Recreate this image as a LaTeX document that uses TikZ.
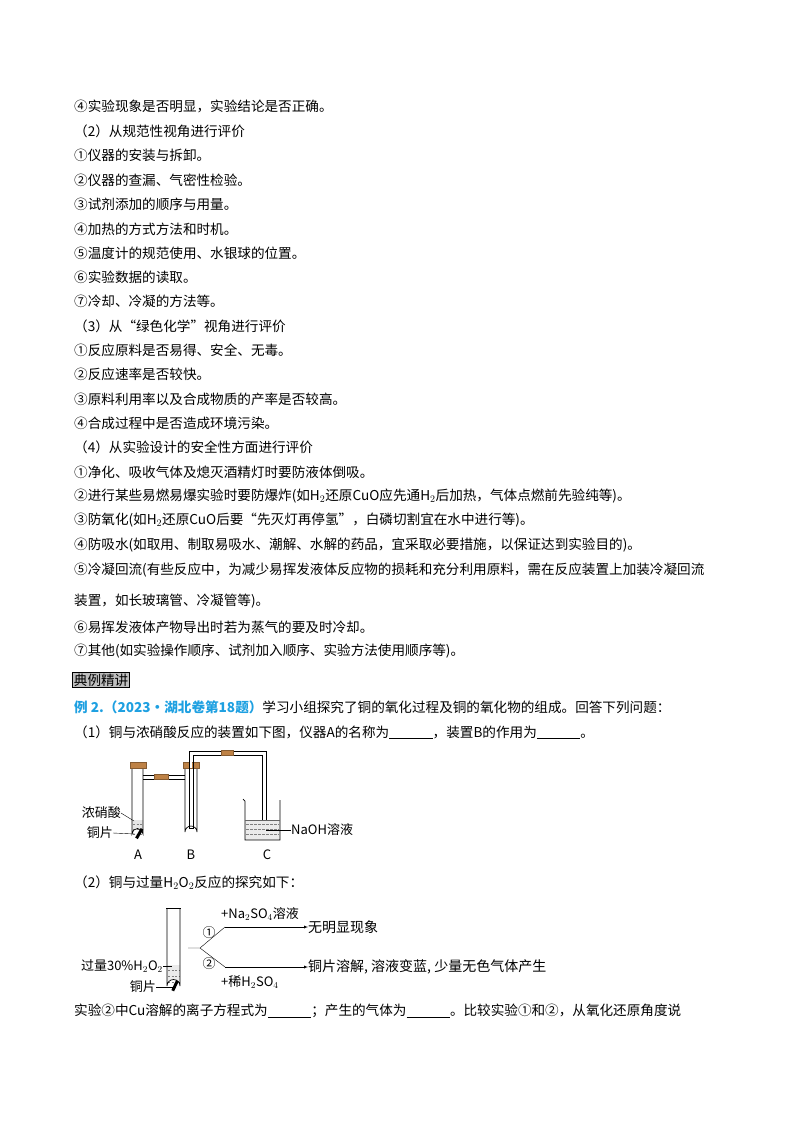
\documentclass[tikz,border=0pt]{standalone}
\usepackage{fontspec}
\setmainfont{Noto Sans CJK SC}
\usetikzlibrary{calc,arrows}
\definecolor{cork}{RGB}{190,130,70}
\definecolor{exblue}{RGB}{30,160,225}
\newcommand{\blank}{\rule[-1.5pt]{3.2em}{0.5pt}}
\tikzset{
	txt/.style={anchor=west,inner sep=0pt,font=\fontsize{13.6}{14}\selectfont},
	lab/.style={inner sep=0pt,font=\fontsize{13}{14}\selectfont},
	glass/.style={line width=0.7pt},
	stop/.style={fill=cork,draw=cork!70!black,line width=0.3pt}
}
\begin{document}
\begin{tikzpicture}[x=1pt,y=-1pt,>=latex]
	\useasboundingbox (0,0) rectangle (800,1132);

	% text lines above the example
	\node[txt] (t1) at (74,106) {④实验现象是否明显，实验结论是否正确。};
	\node[txt] (t2) at (74,131) {（2）从规范性视角进行评价};
	\node[txt] (t3) at (74,155) {①仪器的安装与拆卸。};
	\node[txt] (t4) at (74,180) {②仪器的查漏、气密性检验。};
	\node[txt] (t5) at (74,204) {③试剂添加的顺序与用量。};
	\node[txt] (t6) at (74,229) {④加热的方式方法和时机。};
	\node[txt] (t7) at (74,253) {⑤温度计的规范使用、水银球的位置。};
	\node[txt] (t8) at (74,277) {⑥实验数据的读取。};
	\node[txt] (t9) at (74,301) {⑦冷却、冷凝的方法等。};
	\node[txt] (t10) at (74,326) {（3）从“绿色化学”视角进行评价};
	\node[txt] (t11) at (74,350) {①反应原料是否易得、安全、无毒。};
	\node[txt] (t12) at (74,374) {②反应速率是否较快。};
	\node[txt] (t13) at (74,399) {③原料利用率以及合成物质的产率是否较高。};
	\node[txt] (t14) at (74,423) {④合成过程中是否造成环境污染。};
	\node[txt] (t15) at (74,447) {（4）从实验设计的安全性方面进行评价};
	\node[txt] (t16) at (74,472) {①净化、吸收气体及熄灭酒精灯时要防液体倒吸。};
	\node[txt] (t17) at (74,496) {②进行某些易燃易爆实验时要防爆炸(如H$_2$还原CuO应先通H$_2$后加热，气体点燃前先验纯等)。};
	\node[txt] (t18) at (74,520) {③防氧化(如H$_2$还原CuO后要“先灭灯再停氢”，白磷切割宜在水中进行等)。};
	\node[txt] (t19) at (74,545) {④防吸水(如取用、制取易吸水、潮解、水解的药品，宜采取必要措施，以保证达到实验目的)。};
	\node[txt] (t20) at (74,570) {⑤冷凝回流(有些反应中，为减少易挥发液体反应物的损耗和充分利用原料，需在反应装置上加装冷凝回流};
	\node[txt] (t21) at (74,601) {装置，如长玻璃管、冷凝管等)。};
	\node[txt] (t22) at (74,627) {⑥易挥发液体产物导出时若为蒸气的要及时冷却。};
	\node[txt] (t23) at (74,651) {⑦其他(如实验操作顺序、试剂加入顺序、实验方法使用顺序等)。};

	% example heading
	\node[txt,fill=black!25,draw,line width=0.8pt,inner sep=1.5pt] (head) at (72,680) {典例精讲};
	\node[txt] (ex) at (74,707) {\textcolor{exblue}{\bfseries 例 2.（2023·湖北卷第18题）}学习小组探究了铜的氧化过程及铜的氧化物的组成。回答下列问题：};
	\node[txt] (q1) at (74,732) {（1）铜与浓硝酸反应的装置如下图，仪器A的名称为\blank，装置B的作用为\blank。};

	% apparatus A, B, C
	\coordinate (Atop) at (137.5,767);
	\coordinate (Btop) at (191,767);
	\fill[black!10] (132,820) -- (143,820) -- (143,834) arc (0:-180:5.5) -- cycle;
	\foreach \y in {824,829,834} \draw[black!50,dash pattern=on 2pt off 1.5pt] (133,\y) -- (142,\y);
	\draw[glass] (132,767) -- (132,834) arc (180:360:5.5) -- (143,767);
	\fill[black,rotate around={-30:(139,834)}] (137.5,828) rectangle (140.5,839);
	\draw[stop] (130,762) rectangle (146,768);
	\draw[glass] (185,767) -- (185,832) arc (180:360:6) -- (197,767);
	\draw[stop] (183,762) rectangle (199,768);
	% connecting tubes
	\draw[glass] (143,775) -- (185,775) (143,779) -- (185,779);
	\draw[stop] (154,774.5) rectangle (168,779.5);
	\draw[glass] (189,762) -- (189,828) -- (193,828) -- (193,755) -- (262,755) -- (262,828) -- (266,828) -- (266,751) -- (189,751) -- (189,762);
	\fill[white] (190,760) rectangle (192,768);
	\draw[stop] (221,750.5) rectangle (233,755.5);
	% beaker
	\fill[black!8] (245,820) rectangle (280,840);
	\foreach \y in {824,829,834} \draw[black!50,dash pattern=on 2.5pt off 1.5pt] (246,\y) -- (279,\y);
	\draw[glass] (243,799) -- (245,801) -- (245,840) -- (280,840) -- (280,800);
	\draw[black!60] (245,820) -- (280,820);
	% labels
	\node[lab,anchor=east] (acid) at (121,813) {浓硝酸};
	\node[lab,anchor=east] (cu) at (113,833) {铜片};
	\draw (acid.east) -- (134,821);
	\draw (cu.east) -- (135,834);
	\coordinate (naohpt) at (266,830);
	\node[lab,anchor=west] (naoh) at (291,830) {NaOH溶液};
	\draw (naohpt) -- (naoh.west);
	\node[lab] (lA) at (138,855) {A};
	\node[lab] (lB) at (191,855) {B};
	\node[lab] (lC) at (267,855) {C};

	% part (2)
	\node[txt] (q2) at (74,883) {（2）铜与过量H$_2$O$_2$反应的探究如下：};
	\fill[black!8] (167,965) -- (180,965) -- (180,986) arc (0:-180:6.5) -- cycle;
	\foreach \y in {970,976,982} \draw[black!50,dash pattern=on 2pt off 1.5pt] (168,\y) -- (179,\y);
	\draw[glass] (167,908) -- (167,986) arc (180:360:6.5) -- (180,908);
	\draw[glass] (166,908) -- (181,908);
	\fill[black,rotate around={-25:(174,988)}] (172.5,980) rectangle (175.5,991);
	\node[lab,anchor=east] (h2o2) at (163,966) {过量30\%H$_2$O$_2$};
	\node[lab,anchor=east] (cu2) at (156,987) {铜片};
	\draw (h2o2.east) -- (172,966);
	\draw (cu2.east) -- (174,987);
	\coordinate (fork) at (200,948);
	\coordinate (up) at (225,927);
	\coordinate (dn) at (225,967);
	\node[lab,anchor=west,font=\fontsize{14}{15}\selectfont] (res1) at (308,927) {无明显现象};
	\node[lab,anchor=west,font=\fontsize{14}{15}\selectfont] (res2) at (308,967) {铜片溶解, 溶液变蓝, 少量无色气体产生};
	\draw (188,948) -- (fork) -- (up);
	\draw (fork) -- (dn);
	\draw[->] (up) -- (res1.west);
	\draw[->] (dn) -- (res2.west);
	\node[lab] (c1) at (209,933) {①};
	\node[lab] (c2) at (209,964) {②};
	\node[lab,anchor=west] (na) at (221,914) {+Na$_2$SO$_4$溶液};
	\node[lab,anchor=west] (h2so4) at (221,982) {+稀H$_2$SO$_4$};

	\node[txt] (q3) at (74,1011) {实验②中Cu溶解的离子方程式为\blank；产生的气体为\blank。比较实验①和②，从氧化还原角度说};
\end{tikzpicture}
\end{document}
